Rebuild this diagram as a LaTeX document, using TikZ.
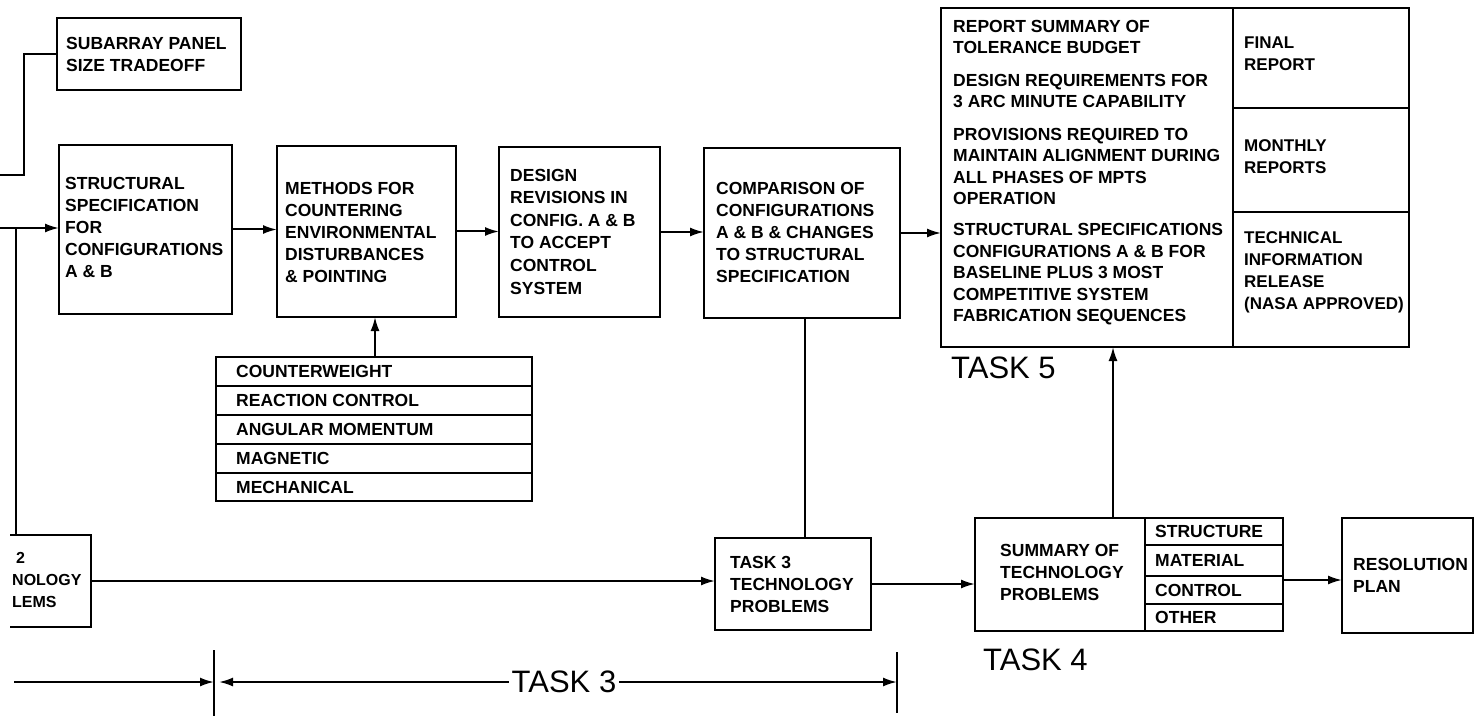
\documentclass[tikz,border=0pt]{standalone}
\usepackage{fontspec}
\setmainfont{Liberation Sans}
\usetikzlibrary{arrows.meta}
\begin{document}
\begin{tikzpicture}[x=1pt,y=-1pt,
  box/.style={draw, line width=2pt, inner sep=0pt, outer sep=0pt, anchor=north west},
  txt/.style={anchor=west, align=left, inner sep=0pt, font=\bfseries\fontsize{17.5}{22}\selectfont},
  txtb/.style={anchor=west, align=left, inner sep=0pt, font=\bfseries\fontsize{17.5}{21.5}\selectfont},
  txtr/.style={anchor=west, align=left, inner sep=0pt, font=\bfseries\fontsize{17}{22}\selectfont},
  lbl/.style={inner sep=3pt, font=\fontsize{31}{32}\selectfont},
  ln/.style={line width=2pt},
  arr/.style={ln, -{Latex[length=14pt,width=9pt]}}]
\useasboundingbox (0,0) rectangle (1479,719);
\clip (0,0) rectangle (1479,719);

% boxes
\node[box, minimum width=184pt, minimum height=72pt] (sub) at (57,18) {};
\node[box, minimum width=173pt, minimum height=169pt] (sc) at (59,145) {};
\node[box, minimum width=179pt, minimum height=171pt] (meth) at (277,146) {};
\node[box, minimum width=161pt, minimum height=170pt] (des) at (499,147) {};
\node[box, minimum width=196pt, minimum height=170pt] (cmp) at (704,148) {};
\node[box, minimum width=468pt, minimum height=339pt] (t5) at (941,8) {};
\node[box, minimum width=308pt, minimum height=113pt] (t4) at (975,518) {};
\node[box, minimum width=131pt, minimum height=115pt] (res) at (1342,518) {};
\node[box, minimum width=156pt, minimum height=92pt] (t3) at (715,538) {};
\node[box, minimum width=316pt, minimum height=144pt] (cw) at (216,357) {};
\node[box, draw=none, minimum width=120pt, minimum height=92pt] (t2) at (-29,535) {};
\draw[ln] (10,535) -- (t2.north east) -- (t2.south east) -- (10,627);

% inner dividers
\draw[ln] (1233,8) -- (1233,347);
\draw[ln] (1233,108) -- (1409,108);
\draw[ln] (1233,212) -- (1409,212);
\draw[ln] (1145,518) -- (1145,631);
\foreach \yy in {545,576,604} \draw[ln] (1145,\yy) -- (1283,\yy);
\foreach \yy in {386,415,444,473} \draw[ln] (216,\yy) -- (532,\yy);

% texts
\node[txt] (subt) at (66,54) {SUBARRAY PANEL\\SIZE TRADEOFF};
\node[txt] (sct) at (65,227) {STRUCTURAL\\SPECIFICATION\\FOR\\CONFIGURATIONS\\A \& B};
\node[txt] (metht) at (285,232) {METHODS FOR\\COUNTERING\\ENVIRONMENTAL\\DISTURBANCES\\\& POINTING};
\node[txt, font=\bfseries\fontsize{17.5}{22.6}\selectfont] (dest) at (510,231.5) {DESIGN\\REVISIONS IN\\CONFIG. A \& B\\TO ACCEPT\\CONTROL\\SYSTEM};
\node[txt, font=\bfseries\fontsize{17.5}{21.8}\selectfont] (cmpt) at (716,232.5) {COMPARISON OF\\CONFIGURATIONS\\A \& B \& CHANGES\\TO STRUCTURAL\\SPECIFICATION};
\node[txtb] (t5t) at (953,172.5) {REPORT SUMMARY OF\\TOLERANCE BUDGET\\[11pt]DESIGN REQUIREMENTS FOR\\3 ARC MINUTE CAPABILITY\\[11pt]PROVISIONS REQUIRED TO\\MAINTAIN ALIGNMENT DURING\\ALL PHASES OF MPTS\\OPERATION\\[9.5pt]STRUCTURAL SPECIFICATIONS\\CONFIGURATIONS A \& B FOR\\BASELINE PLUS 3 MOST\\COMPETITIVE SYSTEM\\FABRICATION SEQUENCES};
\node[txtr] (fin) at (1244,53.5) {FINAL\\REPORT};
\node[txtr] (mon) at (1244,156.5) {MONTHLY\\REPORTS};
\node[txtr] (tir) at (1244,272.5) {TECHNICAL\\INFORMATION\\RELEASE\\(NASA APPROVED)};
\node[txt] (t4t) at (1000,572) {SUMMARY OF\\TECHNOLOGY\\PROBLEMS};
\node[txt] (t4a) at (1155,531.5) {STRUCTURE};
\node[txt] (t4b) at (1155,560.5) {MATERIAL};
\node[txt] (t4c) at (1155,590) {CONTROL};
\node[txt] (t4d) at (1155,617.5) {OTHER};
\node[txt] (rest) at (1353,575.5) {RESOLUTION\\PLAN};
\node[txt] (t3t) at (730,584) {TASK 3\\TECHNOLOGY\\PROBLEMS};
\node[txt, font=\bfseries\fontsize{16}{22}\selectfont] (t2t) at (12,580) {\hspace*{4pt}2\\NOLOGY\\LEMS};
\node[txt] (cw1) at (236,371.5) {COUNTERWEIGHT};
\node[txt] (cw2) at (236,400.5) {REACTION CONTROL};
\node[txt] (cw3) at (236,429.5) {ANGULAR MOMENTUM};
\node[txt] (cw4) at (236,458.5) {MAGNETIC};
\node[txt] (cw5) at (236,487) {MECHANICAL};

\node[lbl, anchor=west, inner sep=0pt] (l5) at (951,368) {TASK 5};
\node[lbl, anchor=west, inner sep=0pt] (l4) at (983,660) {TASK 4};
\node[lbl] (l3) at (564,682) {TASK 3};

% connectors
\coordinate (inS) at (0,175);
\coordinate (inL) at (0,228);
\coordinate (j1) at (16,228);
\draw[ln] (inS) -- ++(24,0) |- (sub.west);
\draw[arr] (inL) -- (sc.west |- inL);
\draw[ln] (j1) -- (j1 |- t2.north);
\draw[arr] (sc.east) -- (meth.west |- sc.east);
\draw[arr] (meth.east) -- (des.west |- meth.east);
\draw[arr] (des.east) -- (cmp.west |- des.east);
\draw[arr] (cmp.east) -- (t5.west |- cmp.east);
\coordinate (cx) at (375,0);
\draw[arr] (cx |- cw.north) -- (cx |- meth.south);
\coordinate (dx) at (805,0);
\draw[ln] (dx |- cmp.south) -- (dx |- t3.north);
\draw[arr] (t2.east) -- (t3.west |- t2.east);
\draw[arr] (t3.east) -- (t4.west |- t3.east);
\coordinate (ry) at (0,580);
\draw[arr] (t4.east |- ry) -- (res.west |- ry);
\coordinate (ux) at (1113,0);
\draw[arr] (ux |- t4.north) -- (ux |- t5.south);

% timeline
\coordinate (s0) at (14,682);
\coordinate (k1) at (214,682);
\coordinate (k2) at (897,682);
\coordinate (k1a) at (214,650);
\coordinate (k1b) at (214,716);
\coordinate (k2a) at (897,652);
\coordinate (k2b) at (897,713);
\draw[ln] (k1a) -- (k1b);
\draw[ln] (k2a) -- (k2b);
\draw[arr] (s0) -- (k1);
\draw[arr] (l3.west) -- ([xshift=5pt]k1);
\draw[arr] (l3.east) -- (k2);
\end{tikzpicture}
\end{document}
